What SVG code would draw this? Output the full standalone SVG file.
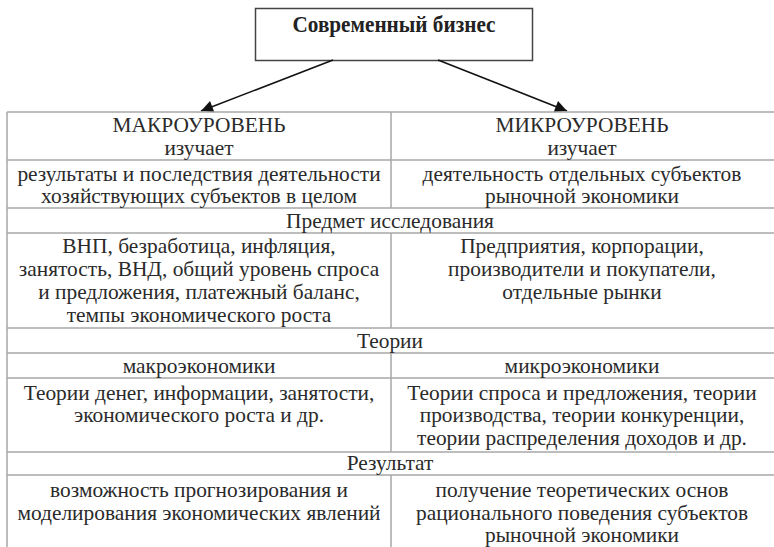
<svg xmlns="http://www.w3.org/2000/svg" width="774" height="547" viewBox="0 0 774 547">
<defs>
<marker id="ah" viewBox="0 0 10 10" refX="10" refY="5" markerWidth="15" markerHeight="12" markerUnits="userSpaceOnUse" orient="auto">
<path d="M0,0 L10,5 L0,10 z" fill="#111"/>
</marker>
<style>
.t{font-family:"Liberation Serif","Times New Roman","DejaVu Serif",serif;font-size:21.4px;fill:#2a2a2a;text-anchor:middle}
.title{font-family:"Liberation Serif","Times New Roman","DejaVu Serif",serif;font-size:23px;font-weight:bold;fill:#222;text-anchor:middle}
.grid{stroke:#a8a8a8;stroke-width:1.5;fill:none}
.box{fill:#fff;stroke:#444;stroke-width:1.5}
.arrow{stroke:#111;stroke-width:1.6;fill:none}
</style>
</defs>
<rect width="774" height="547" fill="#fff"/>

<g id="node-business">
<rect class="box" x="255.5" y="8.5" width="277" height="52"/>
<text class="title" x="394" y="32" textLength="203" lengthAdjust="spacingAndGlyphs">Современный бизнес</text>
</g>

<g id="connectors">
<line class="arrow" x1="333" y1="60" x2="201" y2="111" marker-end="url(#ah)"/>
<line class="arrow" x1="438" y1="60" x2="567" y2="111" marker-end="url(#ah)"/>
</g>

<g id="table-grid">
<path class="grid" d="M7,112H774 M7,160H774 M7,208H774 M7,233H774 M7,328H774 M7,353H774 M7,378H774 M7,452H774 M7,475H774 M7,112V547 M391,112V208 M391,233V328 M391,353V452 M391,475V547"/>
</g>

<g id="node-macro">
<text class="t" x="199" y="132">МАКРОУРОВЕНЬ</text>
<text class="t" x="199" y="155">изучает</text>
<text class="t" x="199" y="181">результаты и последствия деятельности</text>
<text class="t" x="199" y="203">хозяйствующих субъектов в целом</text>
</g>

<g id="node-micro">
<text class="t" x="582" y="132">МИКРОУРОВЕНЬ</text>
<text class="t" x="582" y="155">изучает</text>
<text class="t" x="582" y="181">деятельность отдельных субъектов</text>
<text class="t" x="582" y="203">рыночной экономики</text>
</g>

<g id="node-subject">
<text class="t" x="390" y="228">Предмет исследования</text>
</g>

<g id="node-macro-subject">
<text class="t" x="199" y="253">ВНП, безработица, инфляция,</text>
<text class="t" x="199" y="276">занятость, ВНД, общий уровень спроса</text>
<text class="t" x="199" y="299">и предложения, платежный баланс,</text>
<text class="t" x="199" y="322">темпы экономического роста</text>
</g>

<g id="node-micro-subject">
<text class="t" x="582" y="253">Предприятия, корпорации,</text>
<text class="t" x="582" y="276">производители и покупатели,</text>
<text class="t" x="582" y="299">отдельные рынки</text>
</g>

<g id="node-theories">
<text class="t" x="390" y="348">Теории</text>
</g>

<g id="node-macro-theories">
<text class="t" x="199" y="373">макроэкономики</text>
<text class="t" x="199" y="400">Теории денег, информации, занятости,</text>
<text class="t" x="199" y="422">экономического роста и др.</text>
</g>

<g id="node-micro-theories">
<text class="t" x="582" y="373">микроэкономики</text>
<text class="t" x="582" y="400">Теории спроса и предложения, теории</text>
<text class="t" x="582" y="422">производства, теории конкуренции,</text>
<text class="t" x="582" y="445">теории распределения доходов и др.</text>
</g>

<g id="node-result">
<text class="t" x="390" y="470">Результат</text>
</g>

<g id="node-macro-result">
<text class="t" x="199" y="497">возможность прогнозирования и</text>
<text class="t" x="199" y="520">моделирования экономических явлений</text>
</g>

<g id="node-micro-result">
<text class="t" x="582" y="497">получение теоретических основ</text>
<text class="t" x="582" y="520">рационального поведения субъектов</text>
<text class="t" x="582" y="542">рыночной экономики</text>
</g>
</svg>
